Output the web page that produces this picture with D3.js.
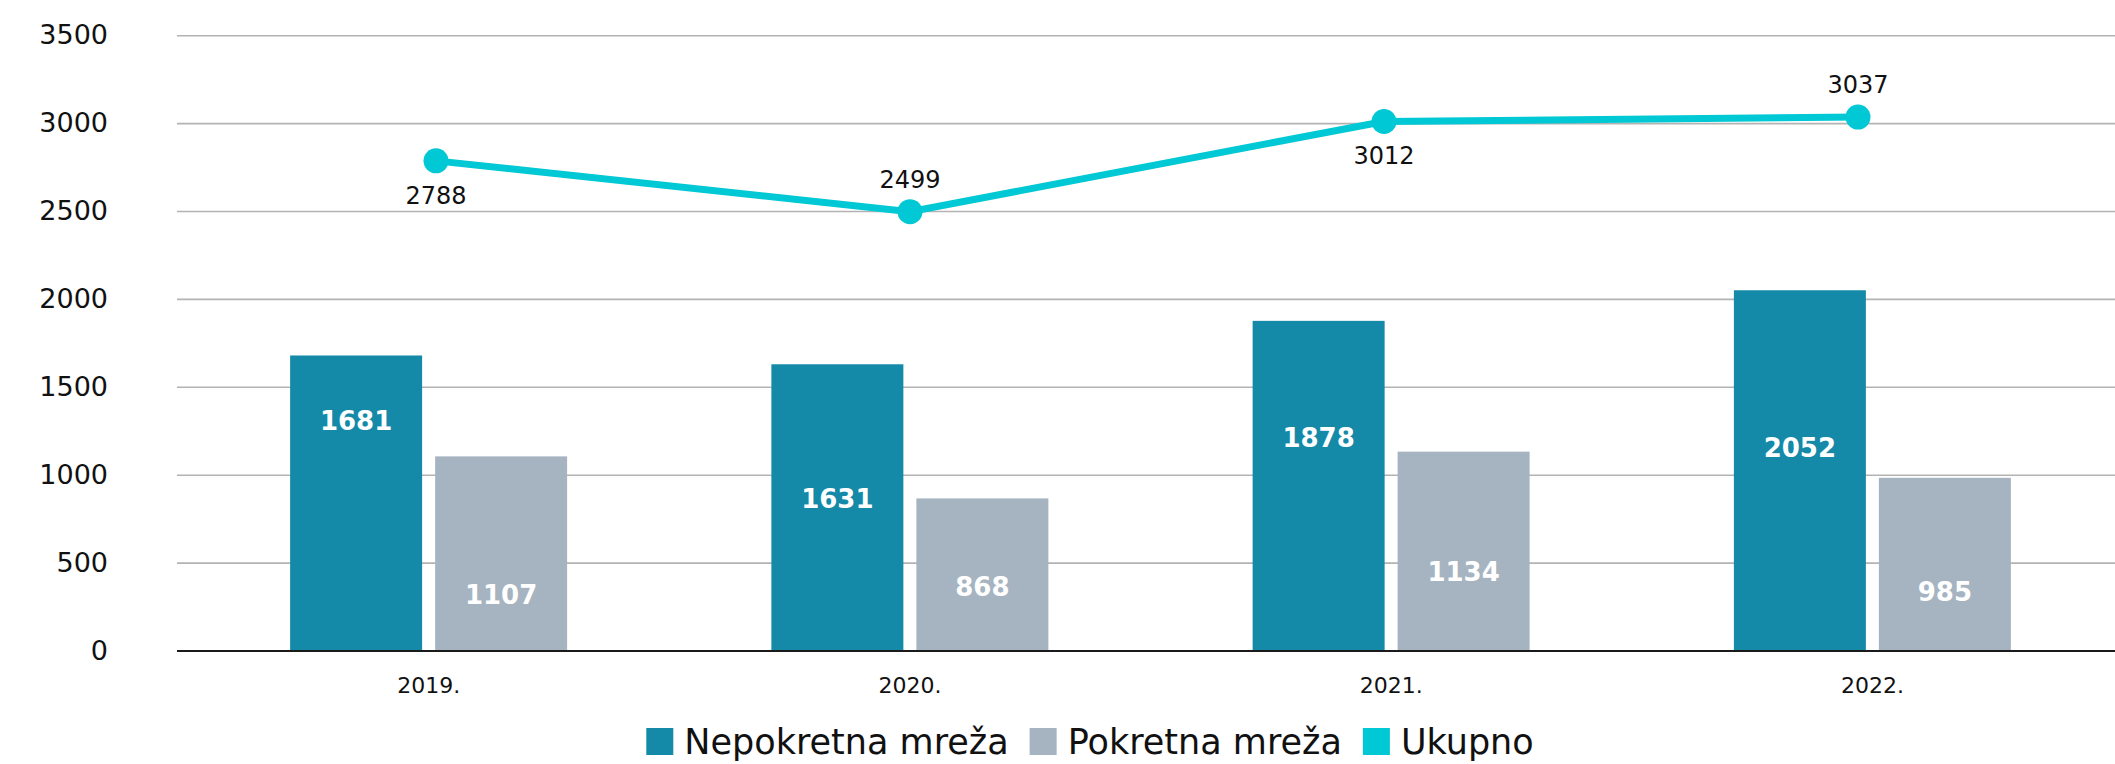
<!DOCTYPE html>
<html>
<head>
<meta charset="utf-8">
<script src="https://cdn.jsdelivr.net/npm/d3@7"></script>
<style>
  html, body { margin: 0; padding: 0; background: #ffffff; }
  svg { display: block; font-family: "DejaVu Sans", sans-serif; }
</style>
</head>
<body>
<svg id="chart" width="2115" height="764"></svg>
<script>
// ---- data ----
const years = ["2019.", "2020.", "2021.", "2022."];
const seriesNames = ["Nepokretna mreža", "Pokretna mreža", "Ukupno"];
const fixedNet = [1681, 1631, 1878, 2052];     // Nepokretna mreža
const mobileNet = [1107, 868, 1134, 985];      // Pokretna mreža
const total = [2788, 2499, 3012, 3037];        // Ukupno
const yTicks = [0, 500, 1000, 1500, 2000, 2500, 3000, 3500];
// label anchors (value units) as placed in the source chart
const fixedLabelAt = [1308, 865, 1212, 1155];
const mobileLabelAt = [319, 364, 449, 336];
const totalLabelSide = ["below", "above", "below", "above"];

// ---- styles ----
const colors = ["#1489a8", "#a6b4c1", "#00c8d4"];

const svg = d3.select("#chart");
const plotLeft = 177, plotRight = 2115;

const y = d3.scaleLinear().domain([0, 3500]).range([651, 35.7]);
const x0 = d3.scaleBand().domain(years).range([188, 2113]).padding(0);
const x1 = d3.scaleBand().domain([0, 1]).range([-138.5, 138.5]).paddingInner(0.0897);
const xLine = d3.scalePoint().domain(years).range([436, 1858]);

// gridlines
svg.append("g")
  .selectAll("line")
  .data(yTicks.filter(d => d > 0))
  .join("line")
  .attr("x1", plotLeft).attr("x2", plotRight)
  .attr("y1", d => y(d)).attr("y2", d => y(d))
  .attr("stroke", "#b3b3b3").attr("stroke-width", 1.6);

// y axis labels
const yAxis = d3.axisLeft(y).tickValues(yTicks).tickSize(0).tickPadding(0).tickFormat(d3.format("d"));
const gy = svg.append("g").attr("transform", "translate(108,0)").call(yAxis);
gy.select(".domain").remove();
gy.selectAll("text")
  .attr("font-family", "DejaVu Sans, sans-serif")
  .attr("font-size", 27).attr("fill", "#111")
  .attr("dy", "0.3em");

// bars
const groups = svg.append("g").selectAll("g")
  .data(years)
  .join("g")
  .attr("transform", d => `translate(${x0(d) + x0.bandwidth() / 2},0)`);

const barSets = [fixedNet, mobileNet];
const labelSets = [fixedLabelAt, mobileLabelAt];
groups.each(function (yr, i) {
  const g = d3.select(this);
  barSets.forEach((arr, s) => {
    g.append("rect")
      .attr("x", x1(s))
      .attr("width", x1.bandwidth())
      .attr("y", y(arr[i]))
      .attr("height", y(0) - y(arr[i]))
      .attr("fill", colors[s]);
    g.append("text")
      .attr("x", x1(s) + x1.bandwidth() / 2)
      .attr("y", y(labelSets[s][i]))
      .attr("dy", "0.36em")
      .attr("text-anchor", "middle")
      .attr("font-size", 26).attr("font-weight", "bold")
      .attr("fill", "#ffffff")
      .text(arr[i]);
  });
});

// baseline
svg.append("line")
  .attr("x1", plotLeft).attr("x2", plotRight)
  .attr("y1", y(0)).attr("y2", y(0))
  .attr("stroke", "#1a1a1a").attr("stroke-width", 2);

// x axis labels
const xAxis = d3.axisBottom(x0).tickSize(0).tickPadding(0);
const gx = svg.append("g").attr("transform", "translate(0,693)").call(xAxis);
gx.select(".domain").remove();
gx.selectAll("text")
  .attr("font-family", "DejaVu Sans, sans-serif")
  .attr("font-size", 22).attr("fill", "#111")
  .attr("dy", 0);

// total line
const line = d3.line().x((d, i) => xLine(years[i])).y(d => y(d));
svg.append("path")
  .datum(total)
  .attr("d", line)
  .attr("fill", "none")
  .attr("stroke", colors[2])
  .attr("stroke-width", 7);
svg.append("g").selectAll("circle")
  .data(total)
  .join("circle")
  .attr("cx", (d, i) => xLine(years[i]))
  .attr("cy", d => y(d))
  .attr("r", 12.5)
  .attr("fill", colors[2]);
svg.append("g").selectAll("text")
  .data(total)
  .join("text")
  .attr("x", (d, i) => xLine(years[i]))
  .attr("y", (d, i) => y(d) + (totalLabelSide[i] === "below" ? 43 : -24))
  .attr("text-anchor", "middle")
  .attr("font-size", 24).attr("fill", "#111")
  .text(d => d);

// legend
const legend = svg.append("g");
const items = seriesNames.map((name, i) => {
  const g = legend.append("g");
  g.append("rect").attr("x", 0).attr("y", -26).attr("width", 27).attr("height", 27).attr("fill", colors[i]);
  const t = g.append("text").attr("x", 38).attr("y", 0).attr("font-size", 35).attr("fill", "#111").text(name);
  return { g, w: 38 + t.node().getComputedTextLength() };
});
const gap = 21;
const totalW = d3.sum(items, d => d.w) + gap * (items.length - 1);
let lx = 1090 - totalW / 2;
items.forEach(it => {
  it.g.attr("transform", `translate(${lx},754)`);
  lx += it.w + gap;
});
</script>
</body>
</html>
